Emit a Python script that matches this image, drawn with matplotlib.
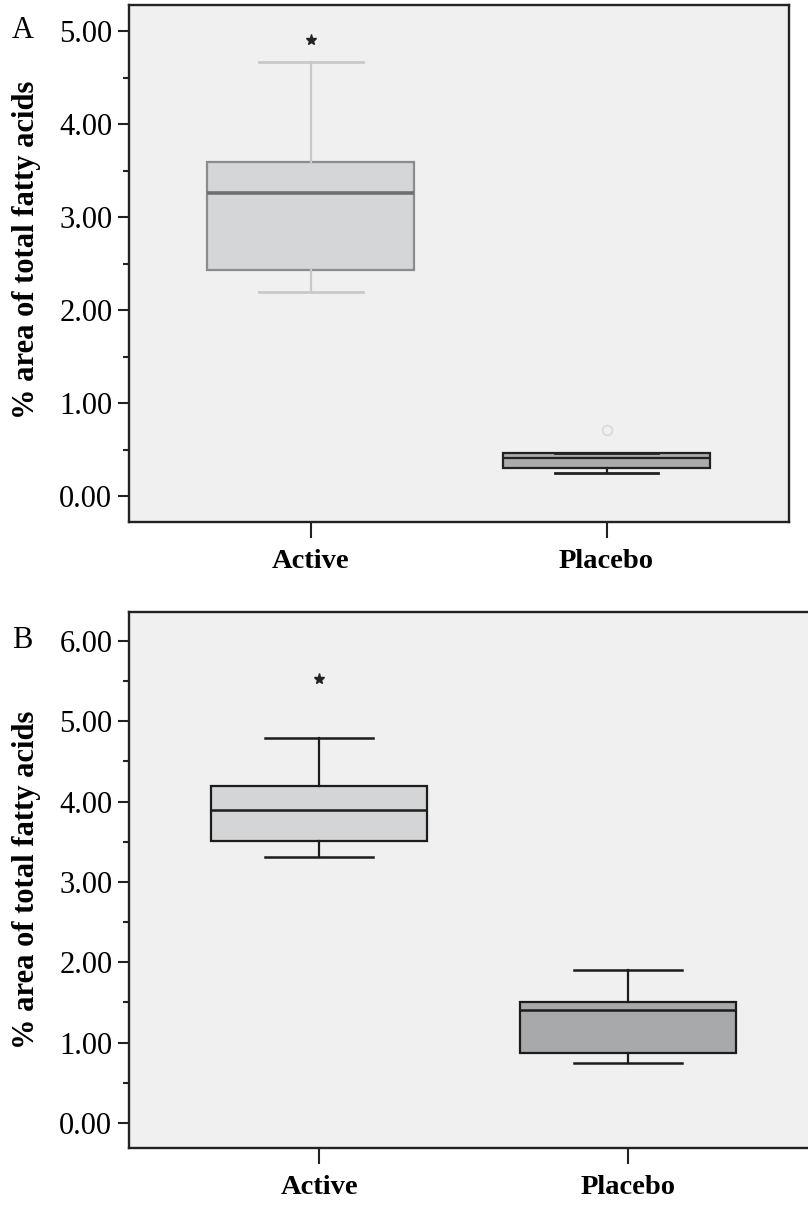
import matplotlib
matplotlib.use("Agg")
import matplotlib.pyplot as plt
from matplotlib.ticker import MultipleLocator, FormatStrFormatter

plt.rcParams['font.family'] = ['Liberation Serif', 'DejaVu Serif']

categories = ["Active", "Placebo"]

# Panel A: box statistics (whislo, q1, median, q3, whishi) and outliers
a_whislo = [2.20, 0.25]
a_q1 = [2.43, 0.31]
a_med = [3.26, 0.41]
a_q3 = [3.59, 0.47]
a_whishi = [4.67, 0.47]
a_extreme = [[4.90], []]      # asterisk outliers
a_outlier = [[], [0.71]]      # circle outliers

# Panel B
b_whislo = [3.31, 0.745]
b_q1 = [3.51, 0.87]
b_med = [3.90, 1.41]
b_q3 = [4.20, 1.51]
b_whishi = [4.79, 1.91]
b_extreme = [[5.53], []]
b_outlier = [[], []]

yticks_a = [0, 1, 2, 3, 4, 5]
yticks_b = [0, 1, 2, 3, 4, 5, 6]

W, H = 808, 1205
fig = plt.figure(figsize=(W / 100, H / 100), dpi=100)
fig.patch.set_facecolor('white')


def ax_rect(l, t, r, b):
    return [l / W, 1 - b / H, (r - l) / W, (b - t) / H]


def make_stats(whislo, q1, med, q3, whishi):
    return [dict(whislo=whislo[i], q1=q1[i], med=med[i], q3=q3[i], whishi=whishi[i],
                 fliers=[], label=categories[i]) for i in range(len(categories))]


def style_axes(ax, ylim, yticks):
    ax.set_facecolor('#f0f0f0')
    ax.set_xlim(0.385, 2.617)
    ax.set_ylim(*ylim)
    ax.set_yticks(yticks)
    ax.yaxis.set_minor_locator(MultipleLocator(0.5))
    ax.yaxis.set_major_formatter(FormatStrFormatter('%.2f'))
    ax.set_xticks([1, 2])
    ax.set_xticklabels(categories, fontsize=20.5, fontweight='bold')
    ax.tick_params(axis='y', which='major', length=8, width=1.5, pad=4, labelsize=22, color='#222222')
    ax.tick_params(axis='y', which='minor', length=4.5, width=1.5, color='#222222')
    ax.tick_params(axis='x', which='major', length=11.5, width=1.5, pad=8, color='#222222')
    for s in ax.spines.values():
        s.set_linewidth(1.7)
        s.set_color('#222222')


# ---------------- Panel A ----------------
axA = fig.add_axes(ax_rect(129, 5, 789, 522))
statsA = make_stats(a_whislo, a_q1, a_med, a_q3, a_whishi)
fillsA = ['#d5d6d8', '#aaabad']
edgesA = ['#8c8c8c', '#222222']
whiskA = ['#c9c9c9', '#222222']
medA = ['#6f6f6f', '#222222']
for i, st in enumerate(statsA):
    axA.bxp([st], positions=[i + 1], widths=0.70, patch_artist=True, showfliers=False,
            boxprops=dict(facecolor=fillsA[i], edgecolor=edgesA[i], linewidth=1.6),
            whiskerprops=dict(color=whiskA[i], linewidth=1.6),
            capprops=dict(color=whiskA[i], linewidth=2.0),
            medianprops=dict(color=medA[i], linewidth=2.6 if i == 0 else 1.6),
            capwidths=0.35)
for i in range(len(categories)):
    for v in a_extreme[i]:
        axA.plot([i + 1], [v], marker='*', ms=8, color='#222222', ls='none')
    for v in a_outlier[i]:
        axA.plot([i + 1], [v], marker='o', ms=7, mfc='none', mec='#dadada', mew=1.3, ls='none')
style_axes(axA, (-0.274, 5.28), yticks_a)
fig.text(12 / W, 1 - 31 / H, 'A', fontsize=22, ha='left', va='center')
fig.text(27 / W, 1 - 250 / H, '% area of total fatty acids', rotation=90, fontsize=22,
         fontweight='bold', ha='center', va='center')

# ---------------- Panel B ----------------
axB = fig.add_axes(ax_rect(129, 612, 819, 1148))
statsB = make_stats(b_whislo, b_q1, b_med, b_q3, b_whishi)
fillsB = ['#d4d5d7', '#a8a9ab']
for i, st in enumerate(statsB):
    axB.bxp([st], positions=[i + 1], widths=0.70, patch_artist=True, showfliers=False,
            boxprops=dict(facecolor=fillsB[i], edgecolor='#1c1c1c', linewidth=1.6),
            whiskerprops=dict(color='#1c1c1c', linewidth=1.6),
            capprops=dict(color='#1c1c1c', linewidth=1.8),
            medianprops=dict(color='#1c1c1c', linewidth=1.8),
            capwidths=0.35)
for i in range(len(categories)):
    for v in b_extreme[i]:
        axB.plot([i + 1], [v], marker='*', ms=8, color='#222222', ls='none')
    for v in b_outlier[i]:
        axB.plot([i + 1], [v], marker='o', ms=7, mfc='none', mec='#dadada', ls='none')
style_axes(axB, (-0.311, 6.36), yticks_b)
axB.spines['right'].set_visible(False)
fig.text(12 / W, 1 - 641 / H, 'B', fontsize=22, ha='left', va='center')
fig.text(27 / W, 1 - 880 / H, '% area of total fatty acids', rotation=90, fontsize=22,
         fontweight='bold', ha='center', va='center')

fig.savefig('out.png', dpi=100, facecolor='white')
